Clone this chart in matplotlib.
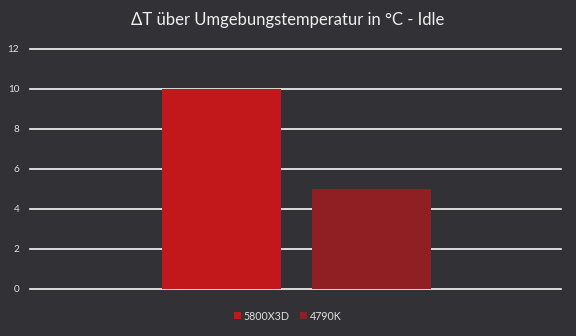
import matplotlib
matplotlib.use("Agg")
import matplotlib.pyplot as plt
import numpy as np

title = "ΔT über Umgebungstemperatur in °C - Idle"
series = ["5800X3D", "4790K"]
values = [10, 5]
colors = ["#c3181b", "#8f1f22"]
yticks = [0, 2, 4, 6, 8, 10, 12]

bg = "#323236"
plt.rcParams['font.family'] = ['Lato', 'DejaVu Sans']

fig = plt.figure(figsize=(6.0, 3.5), dpi=96, facecolor=bg)
ax = fig.add_axes([30/576, 1-289/336, 531/576, 240/336])
ax.set_facecolor(bg)

width = 0.224
offsets = [-0.14, 0.143]
for s, v, c, o in zip(series, values, colors, offsets):
    ax.bar(o, v, width=width, color=c, label=s, zorder=3)

ax.set_xlim(-0.5, 0.5)
ax.set_ylim(0, 12)
ax.set_yticks(yticks)
ax.set_yticklabels([str(t) for t in yticks], color="#e0e0e0", fontsize=7.5)
ax.tick_params(axis='y', length=0, pad=8)
ax.set_xticks([])
for sp in ax.spines.values():
    sp.set_visible(False)
ax.yaxis.grid(True, color="white", linewidth=1.2, zorder=0)
ax.set_axisbelow(True)
for line in ax.get_ygridlines():
    line.set_clip_on(False)

fig.text(0.5, 1-20/336, title, ha='center', va='center', color="#f0f0f0", fontsize=12.5)
leg = fig.legend(loc='center', bbox_to_anchor=(0.5, 1-316/336), ncol=2, frameon=False,
                 fontsize=8, handlelength=0.6, handleheight=0.6, handletextpad=0.3,
                 columnspacing=1.0, labelcolor="#e0e0e0")
fig.savefig("out.png", dpi=96, facecolor=bg)
